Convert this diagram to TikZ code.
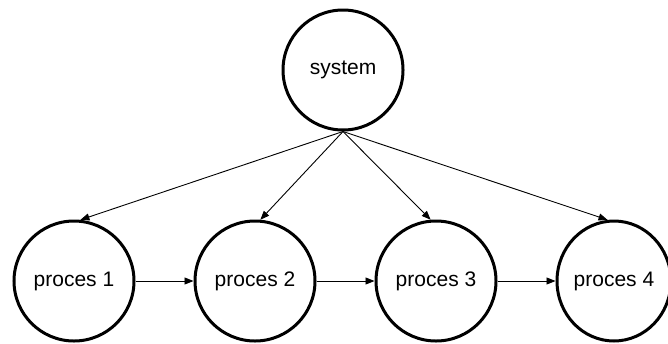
\documentclass[tikz,border=0pt]{standalone}
\usepackage{fontspec}
\setmainfont{Liberation Sans}
\usetikzlibrary{positioning, arrows.meta, shapes.geometric}

\begin{document}
\begin{tikzpicture}[
            proc/.style={ellipse, draw, line width=3pt, minimum width=120pt, minimum height=120pt, inner sep=0pt, font=\fontsize{21}{25}\selectfont},
            link/.style={-{Triangle[length=9pt,width=7pt]}, line width=0.9pt},
            node distance=1cm and 58pt,
            x=1pt, y=1pt
        ]
        \useasboundingbox (0,0) rectangle (668,-343);

        \node[proc] (system) at (343,-70) {system};

        \node[proc] (proc1) at (74,-281) {proces 1};
        \node[proc, right=of proc1] (proc2) {proces 2};
        \node[proc, right=of proc2] (proc3) {proces 3};
        \node[proc, right=of proc3, minimum width=110pt] (proc4) {proces 4};

        \draw[link] (system.south) -- (proc1.84);
        \draw[link] (system.south) -- (proc2.85);
        \draw[link] (system.south) -- (proc3.95);
        \draw[link] (system.south) -- (proc4.96);

        \draw[link] (proc1) -- (proc2);
        \draw[link] (proc2) -- (proc3);
        \draw[link] (proc3) -- (proc4);

    \end{tikzpicture}
\end{document}
